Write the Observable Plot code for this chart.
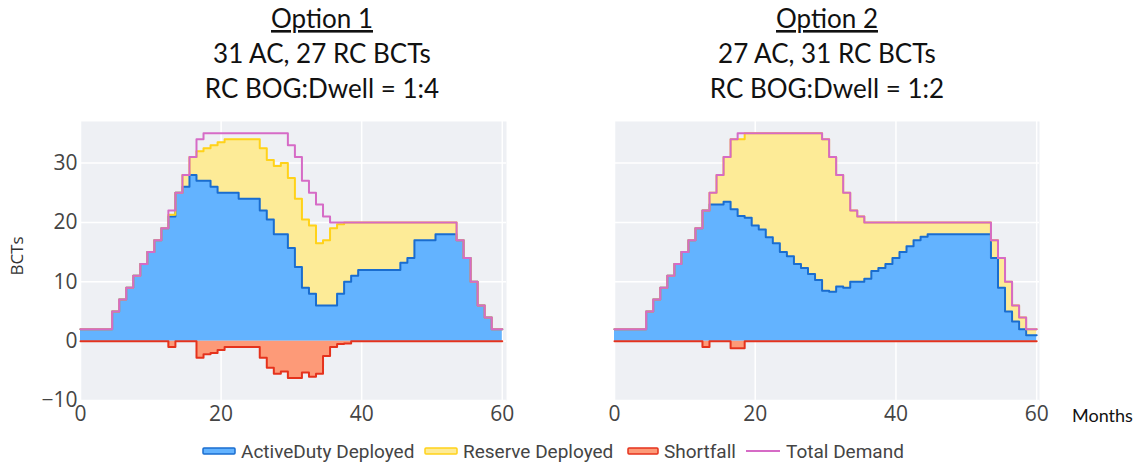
<!DOCTYPE html>
<html>
<head>
<meta charset="utf-8">
<script src="https://cdn.jsdelivr.net/npm/d3@7"></script>
<script src="https://cdn.jsdelivr.net/npm/@observablehq/plot@0.6"></script>
<style>
  html, body { margin: 0; padding: 0; background: #fff; }
  #wrap { position: relative; width: 1141px; height: 463px; overflow: hidden; }
  .panel { position: absolute; top: 0; }
  #overlay { position: absolute; left: 0; top: 0; pointer-events: none; }
</style>
</head>
<body>
<div id="wrap">
  <div id="p1" class="panel" style="left:0px"></div>
  <div id="p2" class="panel" style="left:534px"></div>
</div>
<script>
// ---------- data (monthly, month 0..60) ----------
const months = Array.from({length: 61}, (_, i) => i);

// Option 1: 31 AC, 27 RC BCTs, RC BOG:Dwell = 1:4
const activeDuty1 = [2,2,2,2,2,5,7,9,11,13,15,17,19,
  21,25,26,28,27,27,26,25,25,25,24,24,24,22,20.5,18,18,15.7,12.5,9,8,6,6,6,8,10,11,12,12,12,12,12,12,13.2,14,17,17,17,18,18,18,
  17,14,10,6,4,2,2];
const reserveTop1 = [2,2,2,2,2,5,7,9,11,13,15,17,19,
  21.3,25,28,31,32,32.5,33,33.5,34,34,34,34,34,32.5,30.5,29.5,30,27.5,24,20.5,19.5,16.5,17,19,19.7,20,
  20,20,20,20,20,20,20,20,20,20,20,20,20,20,20,
  17,14,10,6,4,2,2];
const shortfall1 = [0,0,0,0,0,0,0,0,0,0,0,0,0,
  1,0,0,0,2.8,2.2,2,1.5,1,1,1,1,1,2.8,4.5,5.5,5.1,6.2,6.2,5.3,6,5.5,2.5,1,0.5,0.4,
  0,0,0,0,0,0,0,0,0,0,0,0,0,0,0,0,0,0,0,0,0,0];
const demand1 = [2,2,2,2,2,5,7,9,11,13,15,17,19,22,25,28,31,34,
  35,35,35,35,35,35,35,35,35,35,35,35,
  33,31,27,25,23,21,
  20,20,20,20,20,20,20,20,20,20,20,20,20,20,20,20,20,20,
  17,14,10,6,4,2,2];

// Option 2: 27 AC, 31 RC BCTs, RC BOG:Dwell = 1:2
const activeDuty2 = [2,2,2,2,2,5,7,9,11,13,15,17,19,
  22,23,23,23.5,22.2,21.1,20.8,19.5,18.8,17.5,16.5,15,14.3,13,12.3,11.3,10.3,8.5,8.3,9.2,9,10,10,10.5,11.8,12.3,13,14,15,16,17,17.6,
  18,18,18,18,18,18,18,18,18,
  14,9,5,3.3,2,1,1];
const reserveTop2 = [2,2,2,2,2,5,7,9,11,13,15,17,19,22,25,28,31,34,
  34,35,35,35,35,35,35,35,35,35,35,35,
  34,31,28,25,22,21,
  20,20,20,20,20,20,20,20,20,20,20,20,20,20,20,20,20,20,
  17,14,10,6,4,2,2];
const shortfall2 = [0,0,0,0,0,0,0,0,0,0,0,0,0,
  1,0,0,0,1.2,1.2,
  0,0,0,0,0,0,0,0,0,0,0,0,0,0,0,0,0,0,0,0,0,0,0,0,0,0,0,0,0,0,0,0,0,0,0,0,0,0,0,0,0,0];
const demand2 = [2,2,2,2,2,5,7,9,11,13,15,17,19,22,25,28,31,34,
  35,35,35,35,35,35,35,35,35,35,35,35,
  34,31,28,25,22,21,
  20,20,20,20,20,20,20,20,20,20,20,20,20,20,20,20,20,20,
  17,14,10,6,4,2,2];

const xTicks = [0, 20, 40, 60];
const yTicks = [-10, 0, 10, 20, 30];
const titles1 = ["Option 1", "31 AC, 27 RC BCTs", "RC BOG:Dwell = 1:4"];
const titles2 = ["Option 2", "27 AC, 31 RC BCTs", "RC BOG:Dwell = 1:2"];
const legendItems = ["ActiveDuty Deployed", "Reserve Deployed", "Shortfall", "Total Demand"];

// ---------- styles ----------
const BG = "#eef0f4";
const C = {
  blueFill: "#63b3ff", blueLine: "#1a6dcf",
  yelFill: "#fdeb97", yelLine: "#ffd21a",
  redFill: "#fd9a78", redLine: "#e5321c",
  pink: "#d66bc6"
};

function panel(ad, top, sf, td, xmax, marginRight, showY) {
  const data = months.map((m, i) => ({m, ad: ad[i], top: top[i], sf: -sf[i], td: td[i]}));
  const marks = [
    Plot.frame({fill: BG, stroke: "none"}),
    Plot.gridX(xTicks, {stroke: "#fff", strokeOpacity: 1, strokeWidth: 1.5}),
    Plot.gridY(yTicks, {stroke: "#fff", strokeOpacity: 1, strokeWidth: 1.5}),
    Plot.areaY(data, {x: "m", y1: 0, y2: "ad", fill: C.blueFill, curve: "step"}),
    Plot.areaY(data, {x: "m", y1: "ad", y2: "top", fill: C.yelFill, curve: "step"}),
    Plot.areaY(data, {x: "m", y1: 0, y2: "sf", fill: C.redFill, curve: "step"}),
    Plot.lineY(data, {x: "m", y: "ad", stroke: C.blueLine, strokeWidth: 2, curve: "step"}),
    Plot.lineY(data, {x: "m", y: "top", stroke: C.yelLine, strokeWidth: 2, curve: "step"}),
    Plot.lineY(data, {x: "m", y: "sf", stroke: C.redLine, strokeWidth: 2, curve: "step"}),
    Plot.lineY(data, {x: "m", y: "td", stroke: C.pink, strokeWidth: 2, curve: "step"}),
    Plot.axisX(xTicks, {tickSize: 0, tickPadding: 6, label: null})
  ];
  if (showY) marks.push(Plot.axisY(yTicks, {tickSize: 0, tickPadding: 3, label: null}));
  return Plot.plot({
    width: 520, height: 430,
    marginLeft: 80, marginRight, marginTop: 121, marginBottom: 30,
    x: {domain: [0, xmax]},
    y: {domain: [-10, 37], axis: showY ? undefined : null},
    style: {background: "transparent", fontFamily: "'Open Sans', sans-serif", fontSize: "21px", color: "#444", overflow: "visible"},
    marks
  });
}

document.getElementById("p1").append(panel(activeDuty1, reserveTop1, shortfall1, demand1, 60.6, 14, true));
document.getElementById("p2").append(panel(activeDuty2, reserveTop2, shortfall2, demand2, 60.4, 15, false));

// ---------- overlay: titles, axis labels, legend ----------
const svg = d3.select("#wrap").append("svg").attr("id", "overlay").attr("width", 1141).attr("height", 463);

function title(lines, cx) {
  const baselines = [28, 63, 98];
  lines.forEach((t, i) => {
    svg.append("text").attr("x", cx).attr("y", baselines[i]).attr("text-anchor", "middle")
      .attr("font-family", "Lato, sans-serif").attr("font-size", 26).attr("fill", "#111")
      .attr("text-decoration", i === 0 ? "underline" : null).text(t);
  });
}
title(titles1, 322);
title(titles2, 827);

svg.append("text").attr("transform", "translate(23,256) rotate(-90)").attr("text-anchor", "middle")
  .attr("font-family", "'Open Sans', sans-serif").attr("font-size", 17).attr("fill", "#333").text("BCTs");
svg.append("text").attr("x", 1072).attr("y", 422)
  .attr("font-family", "Lato, sans-serif").attr("font-size", 18).attr("fill", "#111").text("Months");

const legendX = [203, 425, 628, 746];
const sw = [
  {fill: C.blueFill, stroke: C.blueLine, w: 32, h: 6},
  {fill: C.yelFill, stroke: C.yelLine, w: 32, h: 6},
  {fill: C.redFill, stroke: C.redLine, w: 30, h: 6},
  {fill: "none", stroke: C.pink, w: 34, h: 0}
];
legendItems.forEach((t, i) => {
  const x = legendX[i], y = 451, s = sw[i];
  if (s.h > 0) {
    svg.append("rect").attr("x", x).attr("y", y - s.h / 2).attr("width", s.w).attr("height", s.h)
      .attr("rx", 1).attr("fill", s.fill).attr("stroke", s.stroke).attr("stroke-width", 1.5);
  } else {
    svg.append("line").attr("x1", x).attr("x2", x + s.w).attr("y1", y).attr("y2", y)
      .attr("stroke", s.stroke).attr("stroke-width", 2);
  }
  svg.append("text").attr("x", x + s.w + 6).attr("y", y).attr("dy", "0.35em")
    .attr("font-family", "Roboto, sans-serif").attr("font-size", 19).attr("fill", "#444").text(t);
});
</script>
</body>
</html>
